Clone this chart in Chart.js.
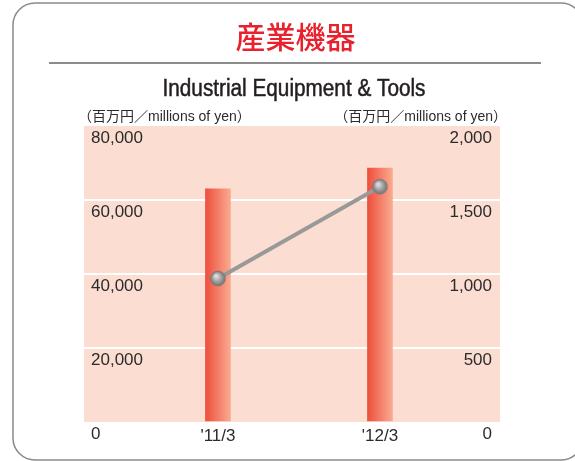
<!DOCTYPE html>
<html>
<head>
<meta charset="utf-8">
<script src="https://cdn.jsdelivr.net/npm/chart.js@4"></script>
<style>
html,body{margin:0;padding:0;background:#fff;}
canvas{display:block;}
</style>
</head>
<body>
<canvas id="industrialChart" width="575" height="461"></canvas>
<script>
// 産業機器 / Industrial Equipment & Tools

const periods = ["'11/3", "'12/3"];
const netSales = [63000, 68600];        // bars, left axis
const operatingIncome = [970, 1590];    // line, right axis
const salesTicks = [0, 20000, 40000, 60000, 80000];
const incomeTicks = [0, 500, 1000, 1500, 2000];

const titleJa = "産業機器";
const titleEn = "Industrial Equipment & Tools";
const unitLabel = "（百万円／millions of yen）";

const TEXT = "#2b2b2b";
const FONT = "'Liberation Sans', 'Noto Sans CJK JP', sans-serif";

/* POINT MARKER (grey ball) */

const ball = document.createElement("canvas");
ball.width = 17;
ball.height = 17;
(function(){
const c = ball.getContext("2d");
const g = c.createRadialGradient(6.5, 6, 1, 8.5, 8.5, 8);
g.addColorStop(0, "#dcdcdc");
g.addColorStop(0.55, "#9a9a9a");
g.addColorStop(1, "#6c6c6c");
c.beginPath();
c.arc(8.5, 8.5, 7.3, 0, Math.PI * 2);
c.fillStyle = g;
c.fill();
c.lineWidth = 1;
c.strokeStyle = "#777";
c.stroke();
})();

/* BAR GRADIENT */

function barFill(context){
const chart = context.chart;
if(!chart.chartArea || context.parsed == null) return "#f07a62";
const px = chart.scales.x.getPixelForValue(context.parsed.x);
const g = chart.ctx.createLinearGradient(px - 12.5, 0, px + 12.5, 0);
g.addColorStop(0, "#ee4f3d");
g.addColorStop(1, "#f9aa90");
return g;
}

/* FRAME, TITLES, PLOT BACKGROUND */

const frame = {
id: "frame",
beforeDraw(chart){
const {ctx, chartArea: a} = chart;
ctx.save();
ctx.fillStyle = "#fcddd1";
ctx.fillRect(a.left, a.top, a.right - a.left, a.bottom - a.top);
ctx.restore();
},
afterDraw(chart){
const ctx = chart.ctx;
ctx.save();

// rounded box
ctx.beginPath();
ctx.roundRect(13, 3, 570, 457, 22);
ctx.lineWidth = 1.5;
ctx.strokeStyle = "#8a8a8a";
ctx.stroke();

// japanese title
ctx.fillStyle = "#e9212d";
ctx.font = "500 30px 'Noto Sans CJK JP', sans-serif";
ctx.textAlign = "center";
ctx.textBaseline = "middle";
ctx.fillText(titleJa, 295.5, 37);

// divider
ctx.beginPath();
ctx.moveTo(49, 63);
ctx.lineTo(541, 63);
ctx.lineWidth = 2;
ctx.strokeStyle = "#8c8c8c";
ctx.stroke();

// english title, condensed
ctx.fillStyle = "#231f20";
ctx.font = "23px " + FONT;
ctx.textBaseline = "alphabetic";
const w = ctx.measureText(titleEn).width;
ctx.translate(294, 95.5);
ctx.scale(263 / w, 1);
ctx.fillText(titleEn, 0, 0);
ctx.lineWidth = 0.5;
ctx.strokeStyle = "#231f20";
ctx.strokeText(titleEn, 0, 0);
ctx.setTransform(1, 0, 0, 1, 0, 0);

// unit labels
ctx.fillStyle = TEXT;
ctx.font = "14px " + FONT;
ctx.textBaseline = "middle";
ctx.textAlign = "left";
ctx.fillText(unitLabel, 78, 117);
ctx.textAlign = "right";
ctx.fillText(unitLabel, 507, 117);

ctx.restore();
}
};

/* CHART */

const ctx = document.getElementById("industrialChart");

new Chart(ctx, {
type: "bar",
data: {
datasets: [
{
type: "line",
data: operatingIncome.map((v, i) => ({x: i, y: v})),
yAxisID: "y1",
order: 0,
borderColor: "#999999",
borderWidth: 4,
pointStyle: ball,
pointRadius: 8,
tension: 0
},
{
type: "bar",
data: netSales.map((v, i) => ({x: i, y: v})),
yAxisID: "y",
order: 1,
backgroundColor: barFill,
barThickness: 25,
borderWidth: 0
}
]
},
options: {
responsive: false,
animation: false,
layout: {
padding: {left: 84, right: 75, top: 126, bottom: 0}
},
plugins: {
legend: {display: false},
tooltip: {enabled: false}
},
scales: {
x: {
type: "linear",
offset: false,
min: -0.827,
max: 1.741,
afterBuildTicks: s => { s.ticks = periods.map((p, i) => ({value: i})); },
afterFit: s => { s.height = 39; },
grid: {display: false, drawTicks: false},
border: {display: false},
ticks: {
padding: 4,
autoSkip: false,
maxRotation: 0,
color: TEXT,
font: {family: FONT, size: 17},
callback: v => periods[v]
}
},
y: {
position: "left",
min: salesTicks[0],
max: salesTicks[salesTicks.length - 1],
afterBuildTicks: s => { s.ticks = salesTicks.map(v => ({value: v})); },
afterFit: s => { s.width = 0; },
border: {display: false},
grid: {
drawTicks: false,
lineWidth: 2,
color: c => (c.tick && c.tick.value > salesTicks[0] && c.tick.value < salesTicks[salesTicks.length - 1]) ? "#ffffff" : "rgba(0,0,0,0)"
},
ticks: {
mirror: true,
padding: 7,
labelOffset: 12,
color: TEXT,
font: {family: FONT, size: 17},
callback: v => v.toLocaleString("en-US")
}
},
y1: {
position: "right",
min: incomeTicks[0],
max: incomeTicks[incomeTicks.length - 1],
afterBuildTicks: s => { s.ticks = incomeTicks.map(v => ({value: v})); },
afterFit: s => { s.width = 0; },
border: {display: false},
grid: {display: false, drawTicks: false},
ticks: {
mirror: true,
padding: -8,
labelOffset: 12,
color: TEXT,
font: {family: FONT, size: 17},
callback: v => v.toLocaleString("en-US")
}
}
}
},
plugins: [frame]
});
</script>
</body>
</html>
